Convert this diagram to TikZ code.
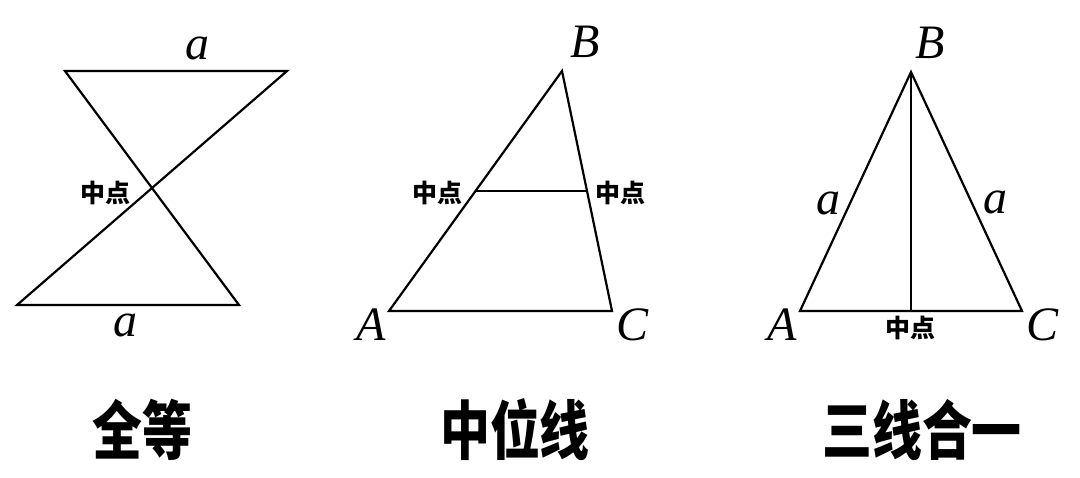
\documentclass[tikz,border=0pt]{standalone}
\usepackage{fontspec}
\setmainfont{Liberation Serif}
\newfontfamily\cjk{Noto Sans CJK SC}
\usetikzlibrary{calc, positioning}
\newcommand{\narrow}[1]{\scalebox{0.78}[1]{#1}}
\tikzstyle{seg}=[line width=1.1pt, draw=black]
\tikzstyle{vlabel}=[inner sep=0pt, font=\fontsize{24}{24}\selectfont\itshape]
\tikzstyle{mlabel}=[inner sep=0pt, font=\cjk\bfseries\fontsize{12.5}{12.5}\selectfont]
\tikzstyle{caption}=[inner sep=0pt, font=\cjk\bfseries\fontsize{32}{32}\selectfont]
\begin{document}
\begin{tikzpicture}[x=0.5pt, y=-0.5pt, seg]
\useasboundingbox (0,0) rectangle (1080,477);
% 全等
\coordinate (p1) at (65,71); \coordinate (p2) at (287,71);
\coordinate (p3) at (17,305); \coordinate (p4) at (239,305);
\draw (p1) -- (p2) -- (p3) -- (p4) -- cycle;
\node[vlabel] (a1) at (197,48) {a};
\node[vlabel] (a2) at (125,325) {a};
\node[mlabel] (mid1) at (105,193) {中点};
\node[caption] (cap1) at (142,430) {\narrow{全等}};
% 中位线
\coordinate (B2) at (562,71); \coordinate (A2) at (389,311); \coordinate (C2) at (612,311);
\coordinate (m1) at ($(A2)!0.5!(B2)$); \coordinate (m2) at ($(C2)!0.5!(B2)$);
\draw (A2) -- (B2) -- (C2) -- cycle;
\draw (m1) -- (m2);
\node[vlabel] (lB2) at (585,42) {B};
\node[vlabel] (lA2) at (371,325) {A};
\node[vlabel] (lC2) at (632,325) {C};
\node[mlabel] (mid2) at (437,193) {中点};
\node[mlabel] (mid3) at (620,193) {中点};
\node[caption] (cap2) at (515,430) {\narrow{中位线}};
% 三线合一
\coordinate (B3) at (911,72); \coordinate (A3) at (800,311); \coordinate (C3) at (1022,311);
\coordinate (D3) at ($(A3)!0.5!(C3)$);
\draw (A3) -- (B3) -- (C3) -- cycle;
\draw (B3) -- (D3);
\node[vlabel] (lB3) at (930,43) {B};
\node[vlabel] (lA3) at (782,325) {A};
\node[vlabel] (lC3) at (1042,325) {C};
\node[vlabel] (a3) at (828,203) {a};
\node[vlabel] (a4) at (995,202) {a};
\node[mlabel] (mid4) at (910,328) {中点};
\node[caption] (cap3) at (922,430) {\narrow{三线合一}};
\end{tikzpicture}
\end{document}
